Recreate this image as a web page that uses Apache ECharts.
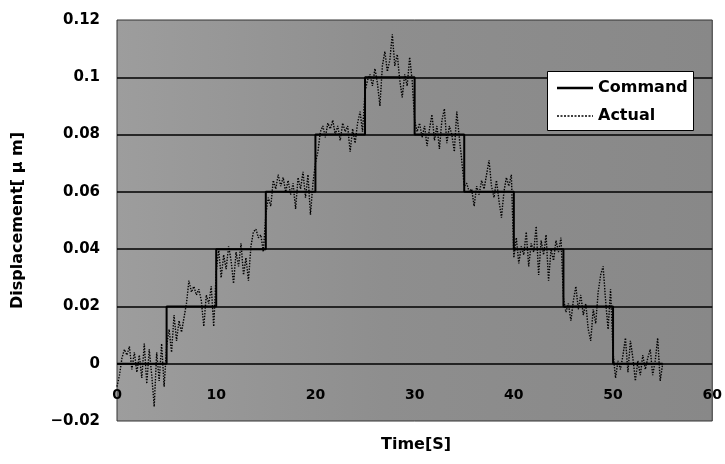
<!DOCTYPE html>
<html>
<head>
<meta charset="utf-8">
<script src="https://cdn.jsdelivr.net/npm/echarts@6/dist/echarts.min.js"></script>
<style>html,body{margin:0;padding:0;background:#fff;}#c{width:725px;height:464px;}</style>
</head>
<body>
<div id="c"></div>
<script>
// Command step points (time [s], displacement [um])
var commandTime = [0, 5, 10, 15, 20, 25, 30, 35, 40, 45, 50, 55];
var commandDisp = [0, 0.02, 0.04, 0.06, 0.08, 0.1, 0.08, 0.06, 0.04, 0.02, 0, 0];

var actualTime = [
  0,0.25,0.5,0.75,1,1.25,1.5,1.75,2,2.25,2.5,2.75,3,3.25,3.5,3.75,4,4.25,4.5,4.75,
  5,5.25,5.5,5.75,6,6.25,6.5,6.75,7,7.25,7.5,7.75,8,8.25,8.5,8.75,9,9.25,9.5,9.75,
  10,10.25,10.5,10.75,11,11.25,11.5,11.75,12,12.25,12.5,12.75,13,13.25,13.5,13.75,14,14.25,14.5,14.75,
  15,15.25,15.5,15.75,16,16.25,16.5,16.75,17,17.25,17.5,17.75,18,18.25,18.5,18.75,19,19.25,19.5,19.75,
  20,20.25,20.5,20.75,21,21.25,21.5,21.75,22,22.25,22.5,22.75,23,23.25,23.5,23.75,24,24.25,24.5,24.75,
  25,25.25,25.5,25.75,26,26.25,26.5,26.75,27,27.25,27.5,27.75,28,28.25,28.5,28.75,29,29.25,29.5,29.75,
  30,30.25,30.5,30.75,31,31.25,31.5,31.75,32,32.25,32.5,32.75,33,33.25,33.5,33.75,34,34.25,34.5,34.75,
  35,35.25,35.5,35.75,36,36.25,36.5,36.75,37,37.25,37.5,37.75,38,38.25,38.5,38.75,39,39.25,39.5,39.75,
  40,40.25,40.5,40.75,41,41.25,41.5,41.75,42,42.25,42.5,42.75,43,43.25,43.5,43.75,44,44.25,44.5,44.75,
  45,45.25,45.5,45.75,46,46.25,46.5,46.75,47,47.25,47.5,47.75,48,48.25,48.5,48.75,49,49.25,49.5,49.75,
  50,50.25,50.5,50.75,51,51.25,51.5,51.75,52,52.25,52.5,52.75,53,53.25,53.5,53.75,54,54.25,54.5,54.75,
  55
];
var actualDisp = [
  -0.008,-0.004,0.002,0.005,0.003,0.006,-0.002,0.004,-0.003,0.003,-0.005,0.007,-0.007,0.005,-0.004,-0.015,0.004,-0.006,0.007,-0.008,
  0.006,0.012,0.004,0.017,0.008,0.015,0.011,0.016,0.021,0.029,0.025,0.027,0.024,0.026,0.022,0.013,0.024,0.021,0.027,0.013,
  0.032,0.040,0.030,0.038,0.033,0.041,0.036,0.028,0.039,0.034,0.042,0.031,0.037,0.029,0.041,0.046,0.047,0.044,0.045,0.039,
  0.052,0.058,0.055,0.064,0.061,0.066,0.062,0.065,0.060,0.064,0.059,0.063,0.054,0.065,0.061,0.067,0.058,0.066,0.052,0.063,
  0.070,0.074,0.081,0.083,0.079,0.084,0.082,0.085,0.080,0.083,0.078,0.084,0.081,0.083,0.074,0.082,0.077,0.084,0.088,0.081,
  0.095,0.099,0.101,0.097,0.103,0.098,0.090,0.104,0.109,0.102,0.106,0.115,0.104,0.108,0.099,0.093,0.101,0.097,0.107,0.099,
  0.085,0.081,0.084,0.079,0.083,0.076,0.082,0.087,0.078,0.083,0.075,0.085,0.089,0.077,0.083,0.080,0.074,0.088,0.079,0.071,
  0.062,0.063,0.060,0.061,0.055,0.062,0.059,0.064,0.061,0.066,0.071,0.062,0.058,0.064,0.057,0.051,0.060,0.065,0.062,0.066,
  0.037,0.044,0.035,0.041,0.038,0.046,0.034,0.042,0.039,0.048,0.031,0.043,0.038,0.045,0.029,0.040,0.036,0.043,0.039,0.044,
  0.023,0.018,0.021,0.015,0.022,0.027,0.019,0.024,0.017,0.021,0.012,0.008,0.019,0.014,0.025,0.031,0.034,0.022,0.012,0.026,
  0.004,-0.005,0.001,-0.002,0.003,0.009,-0.003,0.008,0.002,-0.006,0.001,-0.004,0.003,-0.002,0.002,0.005,-0.004,0.001,0.009,-0.006,
  0
];

var xTicks = [0, 10, 20, 30, 40, 50, 60];
var yTicks = [-0.02, 0, 0.02, 0.04, 0.06, 0.08, 0.1, 0.12];

var commandData = commandTime.map(function (t, i) { return [t, commandDisp[i]]; });
var actualData = actualTime.map(function (t, i) { return [t, actualDisp[i]]; });

var chart = echarts.init(document.getElementById('c'), null, {renderer: 'canvas'});
var font = '"DejaVu Sans", Verdana, sans-serif';
var dottedIcon = 'path://' +
  'M0,5h2v1.6h-2z M3.5,5h2v1.6h-2z M7,5h2v1.6h-2z M10.5,5h2v1.6h-2z M14,5h2v1.6h-2z M17.5,5h2v1.6h-2z' +
  'M21,5h2v1.6h-2z M24.5,5h2v1.6h-2z M28,5h2v1.6h-2z M31.5,5h2v1.6h-2z M35,5h1v1.6h-1z';
chart.setOption({
  animation: false,
  backgroundColor: '#ffffff',
  grid: {
    left: 117, right: 9, top: 20, bottom: 43,
    show: true,
    backgroundColor: new echarts.graphic.LinearGradient(0, 0, 1, 0, [
      {offset: 0, color: '#9d9d9d'}, {offset: 0.45, color: '#8e8e8e'}, {offset: 1, color: '#888888'}
    ]),
    borderColor: '#333', borderWidth: 1
  },
  legend: {
    left: 557, top: 80, z: 7,
    orient: 'vertical',
    padding: 0, itemGap: 12, itemWidth: 36, itemHeight: 12,
    textStyle: {fontFamily: font, fontSize: 16, fontWeight: 'bold', color: '#000'},
    data: [
      {name: 'Command', icon: 'path://M0,5 L36,5 L36,7.5 L0,7.5 Z', itemStyle: {color: '#000'}},
      {name: 'Actual', icon: dottedIcon, itemStyle: {color: '#000'}}
    ]
  },
  xAxis: {
    type: 'value', min: 0, max: 60, interval: 10,
    offset: -58,
    axisLine: {show: false, onZero: false},
    axisTick: {show: false},
    splitLine: {show: false},
    axisLabel: {
      margin: 25, fontFamily: font, fontSize: 14, fontWeight: 'bold', color: '#000',
      formatter: function (v) { return xTicks.indexOf(v) >= 0 ? String(v) : ''; }
    }
  },
  yAxis: {
    type: 'value', min: -0.02, max: 0.12, interval: 0.02,
    name: 'Displacement[ μ m]', nameLocation: 'middle', nameGap: 91,
    nameTextStyle: {fontFamily: font, fontSize: 16, fontWeight: 'bold', color: '#000'},
    axisLine: {show: false},
    axisTick: {show: false},
    splitLine: {show: true, showMinLine: false, showMaxLine: false, lineStyle: {color: '#000', width: 1.6}},
    axisLabel: {
      margin: 17, fontFamily: font, fontSize: 15, fontWeight: 'bold', color: '#000',
      formatter: function (v) {
        var r = Math.round(v * 100) / 100;
        for (var i = 0; i < yTicks.length; i++) {
          if (Math.abs(yTicks[i] - r) < 1e-9) return (r < 0 ? '\u2212' : '') + String(Math.abs(r));
        }
        return '';
      }
    }
  },
  graphic: [
    {
      type: 'rect', z: 6, shape: {x: 547.5, y: 71.5, width: 146, height: 59},
      style: {fill: '#ffffff', stroke: '#000', lineWidth: 1}
    },
    {
      type: 'text', left: 381, top: 437,
      style: {text: 'Time[S]', fontFamily: font, fontSize: 16, fontWeight: 'bold', fill: '#000'}
    }
  ],
  series: [
    {
      name: 'Command', type: 'line', step: 'end', data: commandData,
      showSymbol: false, lineStyle: {color: '#000', width: 2}, itemStyle: {color: '#000'}, z: 2
    },
    {
      name: 'Actual', type: 'line', data: actualData,
      showSymbol: false, lineStyle: {color: '#000', width: 1.4, type: 'dotted'}, itemStyle: {color: '#000'}, z: 3
    }
  ]
});
</script>
</body>
</html>
